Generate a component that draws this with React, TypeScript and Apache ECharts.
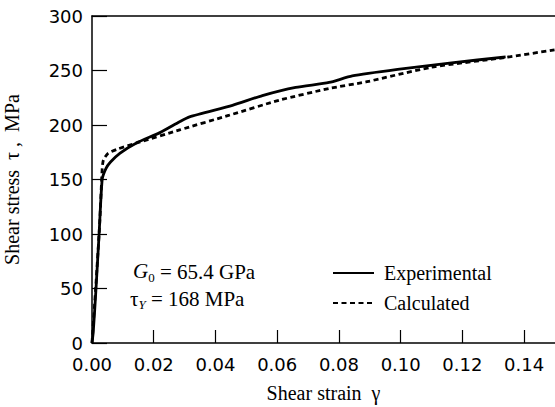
import React, { useEffect, useRef } from "react";
import * as echarts from "echarts";

const experimentalStrain = [0, 0.0004, 0.0013, 0.0023, 0.0033, 0.0045, 0.006, 0.009, 0.0144, 0.022, 0.0284, 0.0316, 0.0455, 0.0552, 0.066, 0.0768, 0.0843, 0.099, 0.1165, 0.134];
const experimentalStress = [0, 10, 50, 100, 150, 160, 166, 174, 183.5, 193, 203, 207.5, 218, 227, 234.5, 239, 245, 251, 257, 262.5];

const calculatedStrain = [0, 0.0013, 0.0025, 0.0033, 0.0037, 0.0052, 0.0084, 0.015, 0.0284, 0.0445, 0.0606, 0.0768, 0.0887, 0.11, 0.134, 0.15];
const calculatedStress = [0, 55, 110, 160, 168, 174, 178, 184, 195.5, 209, 222.7, 233.5, 239.5, 253, 262, 269];

const yTicks = [0, 50, 100, 150, 200, 250, 300];

const SERIF = "'Liberation Serif', 'DejaVu Serif', serif";
const SANS = "'DejaVu Sans', Arial, sans-serif";

export default function App() {
  const ref = useRef<HTMLDivElement>(null);
  useEffect(() => {
    if (!ref.current) return;
    const chart = echarts.init(ref.current, null, { renderer: "svg" });
    const expData = experimentalStrain.map((x, i) => [x, experimentalStress[i]]);
    const calcData = calculatedStrain.map((x, i) => [x, calculatedStress[i]]);
    chart.setOption({
      animation: false,
      backgroundColor: "#fff",
      grid: { left: 92, right: 0, top: 16, bottom: 64, outerBoundsMode: "none" },
      legend: {
        orient: "vertical",
        left: 327,
        top: 258,
        itemWidth: 41,
        itemHeight: 20,
        itemGap: 10,
        data: ["Experimental", "Calculated"],
        itemStyle: { opacity: 0 },
        textStyle: { fontFamily: SERIF, fontSize: 20, color: "#000", padding: [0, 0, 0, 5] },
      },
      xAxis: [
        {
          type: "value",
          min: 0,
          max: 0.15,
          interval: 0.02,
          name: "Shear strain  γ",
          nameLocation: "middle",
          nameGap: 40,
          nameTextStyle: { fontFamily: SERIF, fontSize: 20, color: "#000" },
          axisLine: { show: true, onZero: false, lineStyle: { color: "#000", width: 1.5 } },
          axisTick: { show: true, inside: true, length: 13, lineStyle: { color: "#000", width: 1.2 } },
          axisLabel: {
            margin: 12,
            fontFamily: SANS,
            fontSize: 18,
            color: "#000",
            showMaxLabel: false,
            formatter: (v: number) => (v > 0.145 ? "" : v.toFixed(2)),
          },
          splitLine: { show: false },
        },
        {
          type: "value",
          position: "top",
          min: 0,
          max: 0.15,
          axisLine: { show: true, onZero: false, lineStyle: { color: "#000", width: 1.5 } },
          axisTick: { show: false },
          axisLabel: { show: false },
          splitLine: { show: false },
        },
      ],
      yAxis: {
        type: "value",
        min: yTicks[0],
        max: yTicks[yTicks.length - 1],
        interval: 50,
        name: "Shear stress  τ ,  MPa",
        nameLocation: "middle",
        nameGap: 70,
        nameTextStyle: { fontFamily: SERIF, fontSize: 20, color: "#000" },
        axisLine: { show: true, onZero: false, lineStyle: { color: "#000", width: 1.5 } },
        axisTick: { show: true, inside: true, length: 15, lineStyle: { color: "#000", width: 1.2 } },
        axisLabel: { margin: 9, fontFamily: SANS, fontSize: 18, color: "#000" },
        splitLine: { show: false },
      },
      graphic: [
        {
          type: "text",
          left: 133,
          top: 260,
          style: {
            text: "{i|G}{sub|0} = 65.4 GPa",
            fontFamily: SERIF,
            fontSize: 21,
            fill: "#000",
            rich: {
              i: { fontFamily: SERIF, fontSize: 21, fontStyle: "italic", fill: "#000", color: "#000", lineHeight: 24, verticalAlign: "top" },
              sub: { fontFamily: SERIF, fontSize: 13, fill: "#000", color: "#000", lineHeight: 24, verticalAlign: "bottom" },
            },
          },
        },
        {
          type: "text",
          left: 130,
          top: 288,
          style: {
            text: "τ{sub|Y} = 168 MPa",
            fontFamily: SERIF,
            fontSize: 21,
            fill: "#000",
            rich: {
              sub: { fontFamily: SERIF, fontSize: 13, fontStyle: "italic", fill: "#000", color: "#000", lineHeight: 24, verticalAlign: "bottom" },
            },
          },
        },
      ],
      series: [
        {
          name: "Experimental",
          type: "line",
          data: expData,
          showSymbol: false,
          symbol: "none",
          smooth: 0.2,
          lineStyle: { color: "#000", width: 2.8, type: "solid" },
          itemStyle: { color: "#000" },
        },
        {
          name: "Calculated",
          type: "line",
          data: calcData,
          showSymbol: false,
          symbol: "none",
          smooth: 0.2,
          lineStyle: { color: "#000", width: 2.8, type: [5, 3.5] },
          itemStyle: { color: "#000" },
        },
      ],
    });
    return () => chart.dispose();
  }, []);
  return (
    <div
      ref={ref}
      style={{ position: "fixed", left: 0, top: 0, width: 555, height: 407 }}
    />
  );
}
